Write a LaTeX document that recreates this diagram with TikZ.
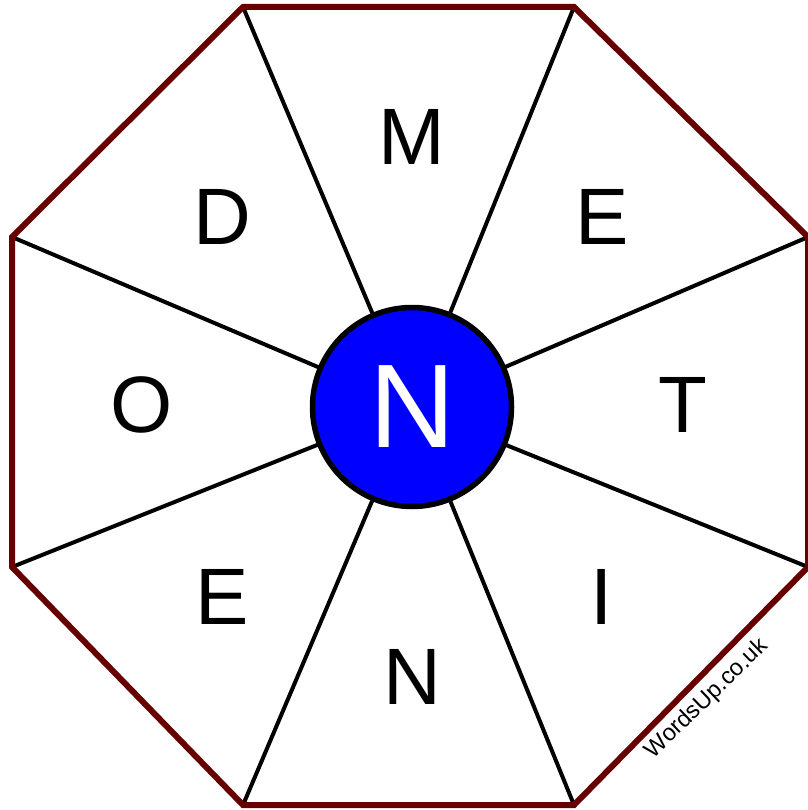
\documentclass[tikz,border=0pt]{standalone}
\usepackage{fontspec}
\setmainfont{Liberation Sans}
\definecolor{octred}{HTML}{660000}
\definecolor{hubblue}{HTML}{0000FF}
\begin{document}
\begin{tikzpicture}[x=1pt,y=-1pt,
  rim/.style={draw=octred,line width=6pt,line join=miter},
  spoke/.style={draw=black,line width=4pt},
  letter/.style={font=\fontsize{80}{80}\selectfont,inner sep=0pt},
  hub/.style={circle,draw=black,line width=5.5pt,fill=hubblue,minimum size=199pt,inner sep=0pt,text=white,font=\fontsize{119}{119}\selectfont}]
\useasboundingbox (0,0) rectangle (807,810);
\coordinate (v0) at (243,7);
\coordinate (v1) at (574,7);
\coordinate (v2) at (808,237);
\coordinate (v3) at (808,567);
\coordinate (v4) at (574,805);
\coordinate (v5) at (243,805);
\coordinate (v6) at (12,567);
\coordinate (v7) at (12,237);
\coordinate (hc) at (412,407);
\foreach \i in {0,...,7}{ \draw[spoke] (v\i) -- (hc); }
\draw[rim] (v0) -- (v1) -- (v2) -- (v3) -- (v4) -- (v5) -- (v6) -- (v7) -- cycle;
\node[hub] (hub) at (hc) {N};
\node[letter] (lM) at (412,137) {M};
\node[letter] (lE1) at (602,217) {E};
\node[letter] (lT) at (683,405) {T};
\node[letter] (lI) at (602,597) {I};
\node[letter] (lN) at (412,677) {N};
\node[letter] (lE2) at (222,597) {E};
\node[letter] (lO) at (142,405) {O};
\node[letter] (lD) at (222,217) {D};
\node[font=\fontsize{23.5}{23.5}\selectfont,rotate=44,inner sep=0pt] (wm) at (707,699) {WordsUp.co.uk};
\end{tikzpicture}
\end{document}
